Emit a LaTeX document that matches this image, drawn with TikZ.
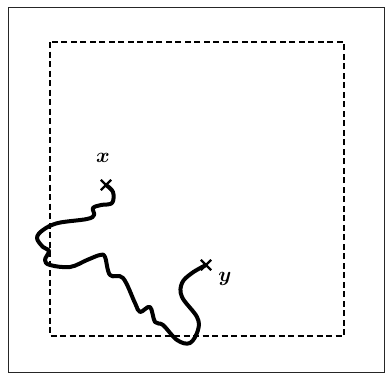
\documentclass[tikz,border=0pt]{standalone}
\usepackage{bm}
\usetikzlibrary{shapes.misc}
\begin{document}
\begin{tikzpicture}[x=1pt,y=-1pt,
  outer/.style={draw=black!85,line width=1pt},
  region/.style={draw,line width=1.2pt,dash pattern=on 6pt off 3.5pt},
  xmark/.style={cross out,draw,line width=2.3pt,minimum size=8pt,inner sep=0pt},
  walk/.style={line width=4pt,line cap=round,line join=round},
  lab/.style={font=\fontsize{22}{22}\selectfont}]
\useasboundingbox (0,0) rectangle (386,376);
\draw[outer] (8,7) rectangle (384,372);
\draw[region] (50,42) rectangle (344,336);
\node[xmark] (px) at (106,185) {};
\node[xmark] (py) at (206,265) {};
\node[lab] (lx) at (103,158) {$\bm{x}$};
\node[lab] (ly) at (225,279) {$\bm{y}$};
\draw[walk] plot[smooth,tension=0.6] coordinates {
 (106,185) (113,192) (112,203) (101,205) (93,208) (94,215) (87,219)
 (58,223) (43,230) (37,238) (43,247) (49,251) (45,260) (50,265) (70,267)
 (87,260) (100,255) (105,257) (110,275) (123,278) (135,303) (140,312)
 (150,307) (155,322) (163,325) (177,340) (190,343) (198,330) (197,317)
 (182,297) (182,283) (192,273) (206,265)};
\end{tikzpicture}
\end{document}
